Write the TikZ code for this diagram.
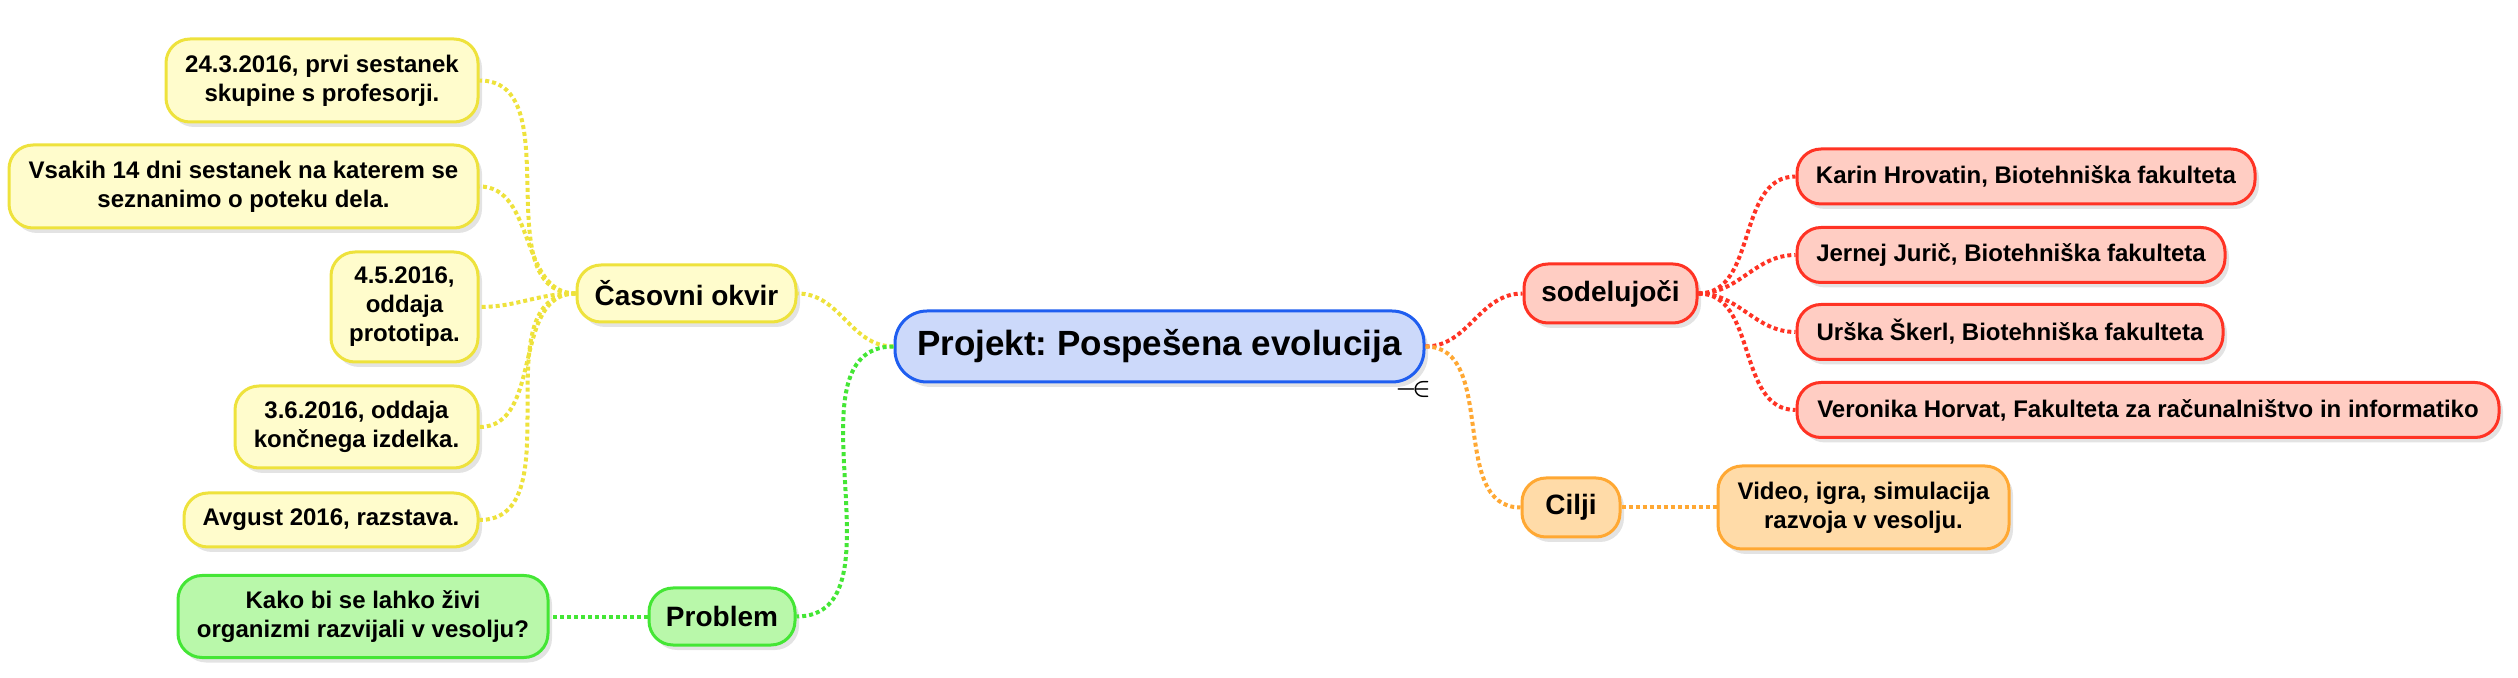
\documentclass[tikz,border=0pt]{standalone}
\usepackage{amsmath}
\usepackage{fontspec}
\setmainfont{Liberation Sans}
\usepackage{xcolor}
\usepackage{tikz}
\usetikzlibrary{positioning, shadows}
\frenchspacing

\definecolor{ylwfill}{HTML}{FFFCCC}
\definecolor{ylwline}{HTML}{EEE23C}
\definecolor{grnfill}{HTML}{B9F8AA}
\definecolor{grnline}{HTML}{44E635}
\definecolor{redfill}{HTML}{FFCDC3}
\definecolor{redline}{HTML}{FF3324}
\definecolor{orgfill}{HTML}{FFDBA8}
\definecolor{orgline}{HTML}{FFA833}
\definecolor{blufill}{HTML}{CCD9FA}
\definecolor{bluline}{HTML}{1F5EF0}

\begin{document}
\begin{tikzpicture}[on grid,
        mbox/.style={draw, rounded corners=12pt, line width=1.5pt, align=center,
            inner xsep=6pt, inner ysep=2pt,
            font=\bfseries\fontsize{12}{14.5}\selectfont,
            drop shadow={opacity=0.22, shadow xshift=2pt, shadow yshift=-2.5pt}},
        mid/.style={mbox, font=\bfseries\fontsize{14}{17}\selectfont},
        root/.style={mbox, rounded corners=16pt, font=\bfseries\fontsize{17.5}{20}\selectfont},
        ylw/.style={draw=ylwline, fill=ylwfill},
        grn/.style={draw=grnline, fill=grnfill},
        rd/.style={draw=redline, fill=redfill},
        org/.style={draw=orgline, fill=orgfill},
        blu/.style={draw=bluline, fill=blufill},
        conn/.style={line width=2pt, dash pattern=on 2pt off 1.5pt}]
        \useasboundingbox (0,0) rectangle (1259pt,-339pt);

        \node[root, blu, minimum width=264.5pt, minimum height=35.5pt] (proj) at (579.75pt,-173.25pt) {Projekt: Pospešena evolucija};
        \node (fold) [below right=21.5pt and 126.75pt of proj, font=\fontsize{12}{12}\selectfont] {$\boldsymbol{-\mkern-8mu\in}$};

        % levo: casovni okvir
        \node[mid, ylw, minimum width=109.5pt, minimum height=28.5pt] (cas) [above left=26.5pt and 236.5pt of proj] {Časovni okvir};
        \node[mbox, ylw, minimum width=156pt, minimum height=41.5pt] (t1) [above left=106.5pt and 182.25pt of cas] {24.3.2016, prvi sestanek\\skupine s profesorji.};
        \node[mbox, ylw, minimum width=234.5pt, minimum height=41.5pt] (t2) [above left=53.5pt and 221.5pt of cas] {Vsakih 14 dni sestanek na katerem se\\seznanimo o poteku dela.};
        \node[mbox, ylw, minimum width=73.5pt, minimum height=55pt] (t3) [below left=6.75pt and 141pt of cas] {4.5.2016,\\oddaja\\prototipa.};
        \node[mbox, ylw, minimum width=121.5pt, minimum height=41pt] (t4) [below left=66.75pt and 165pt of cas] {3.6.2016, oddaja\\končnega izdelka.};
        \node[mbox, ylw, minimum width=147pt, minimum height=27pt] (t5) [below left=113.25pt and 177.75pt of cas] {Avgust 2016, razstava.};

        % levo: problem
        \node[mid, grn, minimum width=73pt, minimum height=28.5pt] (prob) [below left=135pt and 218.75pt of proj] {Problem};
        \node[mbox, grn, minimum width=185pt, minimum height=41pt] (q) [left=179.5pt of prob] {Kako bi se lahko živi\\organizmi razvijali v vesolju?};

        % desno: sodelujoci
        \node[mid, rd, minimum width=86.5pt, minimum height=29.5pt] (sod) [above right=26.5pt and 225.5pt of proj] {sodelujoči};
        \node[mbox, rd, minimum width=229pt, minimum height=27.5pt] (p1) [above right=58.5pt and 207.75pt of sod] {Karin Hrovatin, Biotehniška fakulteta};
        \node[mbox, rd, minimum width=214pt, minimum height=27.5pt] (p2) [above right=19.25pt and 200.25pt of sod] {Jernej Jurič, Biotehniška fakulteta};
        \node[mbox, rd, minimum width=213pt, minimum height=27.5pt] (p3) [below right=19.25pt and 199.75pt of sod] {Urška Škerl, Biotehniška fakulteta};
        \node[mbox, rd, minimum width=351pt, minimum height=27.5pt] (p4) [below right=58.25pt and 268.75pt of sod] {Veronika Horvat, Fakulteta za računalništvo in informatiko};

        % desno: cilji
        \node[mid, org, minimum width=49pt, minimum height=29.5pt] (cil) [below right=80.5pt and 205.75pt of proj] {Cilji};
        \node[mbox, org, minimum width=145.5pt, minimum height=41.5pt] (vid) [right=146.25pt of cil] {Video, igra, simulacija\\razvoja v vesolju.};

        \path[conn]
        (proj) edge[ylwline, out=180, in=0] (cas)
               edge[grnline, out=180, in=0] (prob)
               edge[redline, out=0, in=180] (sod)
               edge[orgline, out=0, in=180] (cil)
        (cas) edge[ylwline, out=180, in=0] (t1)
              edge[ylwline, out=180, in=0] (t2)
              edge[ylwline, out=180, in=0] (t3)
              edge[ylwline, out=180, in=0] (t4)
              edge[ylwline, out=180, in=0] (t5)
        (prob) edge[grnline] (q)
        (sod) edge[redline, out=0, in=180] (p1)
              edge[redline, out=0, in=180] (p2)
              edge[redline, out=0, in=180] (p3)
              edge[redline, out=0, in=180] (p4)
        (cil) edge[orgline] (vid);
    \end{tikzpicture}
\end{document}
